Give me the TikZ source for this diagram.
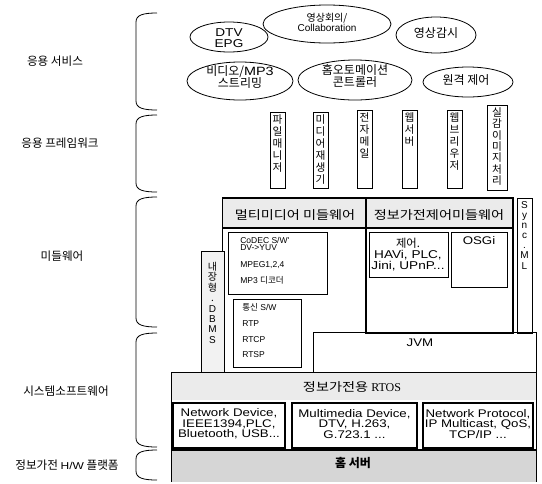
\documentclass[tikz,border=0pt]{standalone}
\usepackage{fontspec}
\setmainfont{Noto Sans CJK KR}
\newfontfamily\krw[FakeStretch=1.18]{Noto Sans CJK KR}
\newfontfamily\lat[FakeStretch=1.2]{Liberation Sans}
\newfontfamily\latn{Liberation Sans}
\usetikzlibrary{shapes.geometric}
\begin{document}
\begin{tikzpicture}[x=0.75pt,y=-0.75pt,
  ln/.style={line width=0.6pt},
  thk/.style={line width=1.2pt},
  side/.style={font=\fontsize{8.7pt}{10pt}\selectfont},
  ktxt/.style={font=\fontsize{9pt}{9.5pt}\selectfont, align=center, inner sep=0},
  hdr/.style={font=\krw\fontsize{9pt}{9.5pt}\selectfont, align=center, inner sep=0},
  stack/.style={font=\fontsize{8pt}{9pt}\selectfont, align=center, inner sep=0, anchor=north},
  dev/.style={font=\lat\fontsize{8.3pt}{8pt}\selectfont, align=center, inner sep=0},
  small/.style={font=\latn\fontsize{6.4pt}{7pt}\selectfont, anchor=west, inner sep=0},
  band/.style={fill=gray!16},
  dark/.style={fill=gray!32}]
\useasboundingbox (0,0) rectangle (542,483);

% side labels
\node[side] (l1) at (55,61) {응용 서비스};
\node[side] (l2) at (60,143) {응용 프레임워크};
\node[side] (l3) at (62,256) {미들웨어};
\node[side] (l4) at (66,391) {시스템소프트웨어};
\node[side] (l5) at (67,465) {정보가전 {\lat\fontsize{7.5pt}{8pt}\selectfont H/W} 플랫폼};

% braces
\foreach \t/\b in {13/110,115/192,197/327,333/447,450/480}
  \draw[ln] (157,\t) .. controls (143,\t) and (136,\t+2) .. (136,\t+9)
    -- (136,\b-9) .. controls (136,\b-2) and (143,\b) .. (157,\b);

% application services
\draw[ln] (229,37) ellipse [x radius=39, y radius=15];
\draw[ln] (327,24) ellipse [x radius=64, y radius=19];
\draw[ln] (436,35) ellipse [x radius=40, y radius=18];
\draw[ln] (240,81) ellipse [x radius=53, y radius=19];
\draw[ln] (355,80) ellipse [x radius=57, y radius=20];
\draw[ln] (468,82) ellipse [x radius=45, y radius=15];
\node[dev, font=\lat\fontsize{8.5pt}{8.5pt}\selectfont] (dtv) at (229,38) {DTV\\EPG};
\node[ktxt, font=\fontsize{7.5pt}{7.5pt}\selectfont] (vc) at (327,22) {영상회의/\\{\latn Collaboration}};
\node[ktxt] (cctv) at (436,33) {영상감시};
\node[ktxt] (vod) at (240,77) {비디오/{\lat MP3}\\스트리밍};
\node[ktxt] (home) at (355,76) {홈오토메이션\\콘트롤러};
\node[ktxt] (rc) at (466,80) {원격 제어};

% application framework
\draw[ln] (270,112) rectangle (285,188);
\draw[ln] (313,112) rectangle (328,188);
\draw[ln] (357,110) rectangle (372,188);
\draw[ln] (402,110) rectangle (417,188);
\draw[ln] (447,110) rectangle (462,188);
\draw[ln] (487,105) rectangle (507,190);
\node[stack] (f1) at (277.5,114) {파\\일\\매\\니\\저};
\node[stack] (f2) at (320.5,114) {미\\디\\어\\재\\생\\기};
\node[stack] (f3) at (364.5,112) {전\\자\\메\\일};
\node[stack] (f4) at (409.5,112) {웹\\서\\버};
\node[stack] (f5) at (454.5,112) {웹\\브\\리\\우\\저};
\node[stack, font=\fontsize{8pt}{8.6pt}\selectfont] (f6) at (497,107) {실\\감\\이\\미\\지\\처\\리};

% middleware
\fill[band] (222,198) rectangle (513,228);
\draw[ln] (313,332) rectangle (536,372);
\node[dev] (jvm) at (420,343) {JVM};
\draw[thk] (222,198) -- (513,198);
\draw[thk] (222,228) -- (513,228);
\draw[ln] (222,198) -- (222,372);
\node[hdr] (mmw) at (295,215) {멀티미디어 미들웨어};
\node[hdr] (cmw) at (439,215) {정보가전제어미들웨어};
% codec
\draw[ln] (228,232) rectangle (327,294);
\node[small] (c1) at (240,240) {CoDEC S/W'};
\node[small] (c2) at (240,248) {DV->YUV};
\node[small] (c3) at (240,265) {MPEG1,2,4};
\node[small] (c4) at (240,280) {MP3 {\rmfamily 디코더}};
% communication
\draw[ln] (233,299) rectangle (301,367);
\node[small] (t1) at (242,307) {{\rmfamily 통신} S/W};
\node[small] (t2) at (242,324) {RTP};
\node[small] (t3) at (242,340) {RTCP};
\node[small] (t4) at (242,355) {RTSP};
% DBMS
\filldraw[ln, fill=gray!10] (201,251) rectangle (224,372);
\node[stack, font=\fontsize{7.5pt}{7.8pt}\selectfont] (db) at (212.5,262) {내\\장\\형\\.\\{\latn D}\\{\latn B}\\{\latn M}\\{\latn S}};
% control middleware body
\draw[thk] (366,198) rectangle (513,333);
\draw[ln] (369,232) rectangle (448,277);
\node[dev, font=\lat\fontsize{8.5pt}{8.6pt}\selectfont] (ctl) at (408,254.5) {{\rmfamily 제어.}\\HAVi, PLC,\\Jini, UPnP...};
\draw[ln] (451,232) rectangle (507,287);
\node[dev] (osgi) at (479,241) {OSGi};
% Sync ML
\draw[ln] (517,198) rectangle (532,333);
\node[stack, font=\latn\fontsize{7.5pt}{7.6pt}\selectfont] (sync) at (524.5,201) {S\\y\\n\\c\\.\\M\\L};

% system software
\fill[band] (171,372) rectangle (536,400);
\draw[ln] (171,372) rectangle (536,450);
\node[hdr] (rtos) at (352,387) {정보가전용 {\fontspec{Liberation Serif}RTOS}};
\draw[thk] (173,403) rectangle (285,448);
\draw[thk] (292,403) rectangle (417,448);
\draw[thk] (423,403) rectangle (533,448);
\node[dev] (d1) at (229,424) {Network Device,\\IEEE1394,PLC,\\Bluetooth, USB...};
\node[dev] (d2) at (354.5,424) {Multimedia Device,\\DTV, H.263,\\G.723.1 ...};
\node[dev] (d3) at (478,424) {Network Protocol,\\IP Multicast, QoS,\\TCP/IP ...};

% H/W platform
\fill[dark] (171,450) rectangle (536,482);
\draw[ln] (171,450) -- (171,482);
\draw[ln] (536,450) -- (536,482);
\draw[line width=1.6pt] (171,450) -- (536,450);
\node[ktxt, font=\bfseries\fontsize{9pt}{9pt}\selectfont] (hs) at (353,463) {홈 서버};
\end{tikzpicture}
\end{document}
